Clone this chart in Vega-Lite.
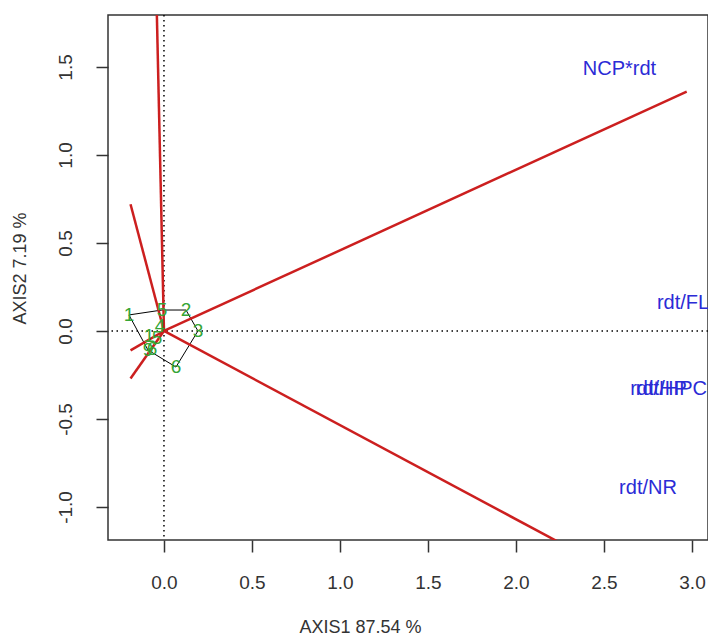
{
  "$schema": "https://vega.github.io/schema/vega-lite/v6.json",
  "width": 600,
  "height": 525,
  "autosize": "none",
  "padding": {"left": 108, "top": 15, "right": 0, "bottom": 99},
  "background": "white",
  "config": {
    "view": {"stroke": "#333333", "strokeWidth": 1.5},
    "font": "Liberation Sans",
    "axis": {
      "labelFont": "Liberation Sans",
      "titleFont": "Liberation Sans",
      "labelFontSize": 19,
      "titleFontSize": 18,
      "titleFontWeight": "normal",
      "labelColor": "#333333",
      "titleColor": "#333333",
      "tickColor": "#333333",
      "tickSize": 12,
      "tickWidth": 1.5,
      "domain": false,
      "grid": false
    }
  },
  "datasets": {
    "origin": [{"v": 0}],
    "arrows": [
      {"var": "a1", "x0": 0, "y0": 0, "x1": 2.97, "y1": 1.36},
      {"var": "a2", "x0": 0, "y0": 0, "x1": 2.3, "y1": -1.23},
      {"var": "a3", "x0": 0, "y0": 0, "x1": -0.045, "y1": 2.0},
      {"var": "a4", "x0": 0, "y0": 0, "x1": -0.19, "y1": 0.72},
      {"var": "a5", "x0": 0, "y0": 0, "x1": -0.19, "y1": -0.11},
      {"var": "a6", "x0": 0, "y0": 0, "x1": -0.19, "y1": -0.27}
    ],
    "hull": [
      {"k": 1, "x": -0.199, "y": 0.091},
      {"k": 2, "x": -0.011, "y": 0.119},
      {"k": 3, "x": 0.125, "y": 0.119},
      {"k": 4, "x": 0.193, "y": 0.0},
      {"k": 5, "x": 0.068, "y": -0.205},
      {"k": 6, "x": -0.091, "y": -0.108},
      {"k": 7, "x": -0.199, "y": 0.091}
    ],
    "points": [
      {"lab": "1", "x": -0.199, "y": 0.091},
      {"lab": "5", "x": -0.011, "y": 0.119},
      {"lab": "2", "x": 0.125, "y": 0.119},
      {"lab": "3", "x": 0.193, "y": 0.0},
      {"lab": "6", "x": 0.068, "y": -0.205},
      {"lab": "9", "x": -0.091, "y": -0.108},
      {"lab": "4", "x": -0.023, "y": 0.028},
      {"lab": "1", "x": -0.085, "y": -0.028},
      {"lab": "5", "x": -0.04, "y": -0.04},
      {"lab": "6", "x": -0.068, "y": -0.1}
    ],
    "labels": [
      {"lab": "NCP*rdt", "x": 2.588, "y": 1.489},
      {"lab": "rdt/FL", "x": 2.949, "y": 0.16},
      {"lab": "rdt/HP", "x": 2.81, "y": -0.33},
      {"lab": "rdt/HPC", "x": 2.883, "y": -0.33},
      {"lab": "rdt/NR", "x": 2.75, "y": -0.892}
    ]
  },
  "layer": [
    {
      "data": {"name": "origin"},
      "mark": {"type": "rule", "strokeDash": [1.5, 3.5], "color": "black", "strokeWidth": 1.5},
      "encoding": {"x": {"field": "v", "type": "quantitative"}}
    },
    {
      "data": {"name": "origin"},
      "mark": {"type": "rule", "strokeDash": [1.5, 3.5], "color": "black", "strokeWidth": 1.5},
      "encoding": {"y": {"field": "v", "type": "quantitative"}}
    },
    {
      "data": {"name": "hull"},
      "mark": {"type": "line", "color": "black", "strokeWidth": 1, "clip": true},
      "encoding": {
        "x": {"field": "x", "type": "quantitative"},
        "y": {"field": "y", "type": "quantitative"},
        "order": {"field": "k"}
      }
    },
    {
      "data": {"name": "arrows"},
      "mark": {"type": "rule", "color": "#cc1f1f", "strokeWidth": 2.5, "clip": true},
      "encoding": {
        "x": {"field": "x0", "type": "quantitative"},
        "y": {"field": "y0", "type": "quantitative"},
        "x2": {"field": "x1"},
        "y2": {"field": "y1"}
      }
    },
    {
      "data": {"name": "points"},
      "mark": {"type": "text", "color": "#35a535", "fontSize": 19, "font": "Liberation Sans", "clip": true},
      "encoding": {
        "x": {"field": "x", "type": "quantitative"},
        "y": {"field": "y", "type": "quantitative"},
        "text": {"field": "lab"}
      }
    },
    {
      "data": {"name": "labels"},
      "mark": {"type": "text", "color": "#2b2bd6", "fontSize": 20, "font": "Liberation Sans", "clip": true},
      "encoding": {
        "x": {"field": "x", "type": "quantitative"},
        "y": {"field": "y", "type": "quantitative"},
        "text": {"field": "lab"}
      }
    }
  ],
  "encoding": {
    "x": {
      "type": "quantitative",
      "scale": {"domain": [-0.318, 3.091], "nice": false, "zero": false},
      "axis": {"values": [0, 0.5, 1, 1.5, 2, 2.5, 3], "labelExpr": "replace(format(datum.value, '.1f'), '\u2212', '-')", "labelPadding": 21, "title": "AXIS1 87.54 %", "titleX": 252, "titleY": 87, "titleBaseline": "middle"}
    },
    "y": {
      "type": "quantitative",
      "scale": {"domain": [-1.1875, 1.795], "nice": false, "zero": false},
      "axis": {"values": [-1, -0.5, 0, 0.5, 1, 1.5], "labelExpr": "replace(format(datum.value, '.1f'), '\u2212', '-')", "labelAngle": 270, "labelAlign": "center", "labelBaseline": "bottom", "labelPadding": 21, "title": "AXIS2 7.19 %", "titleAngle": 270, "titleX": -88, "titleY": 253, "titleBaseline": "middle", "titleAlign": "center"}
    }
  }
}
